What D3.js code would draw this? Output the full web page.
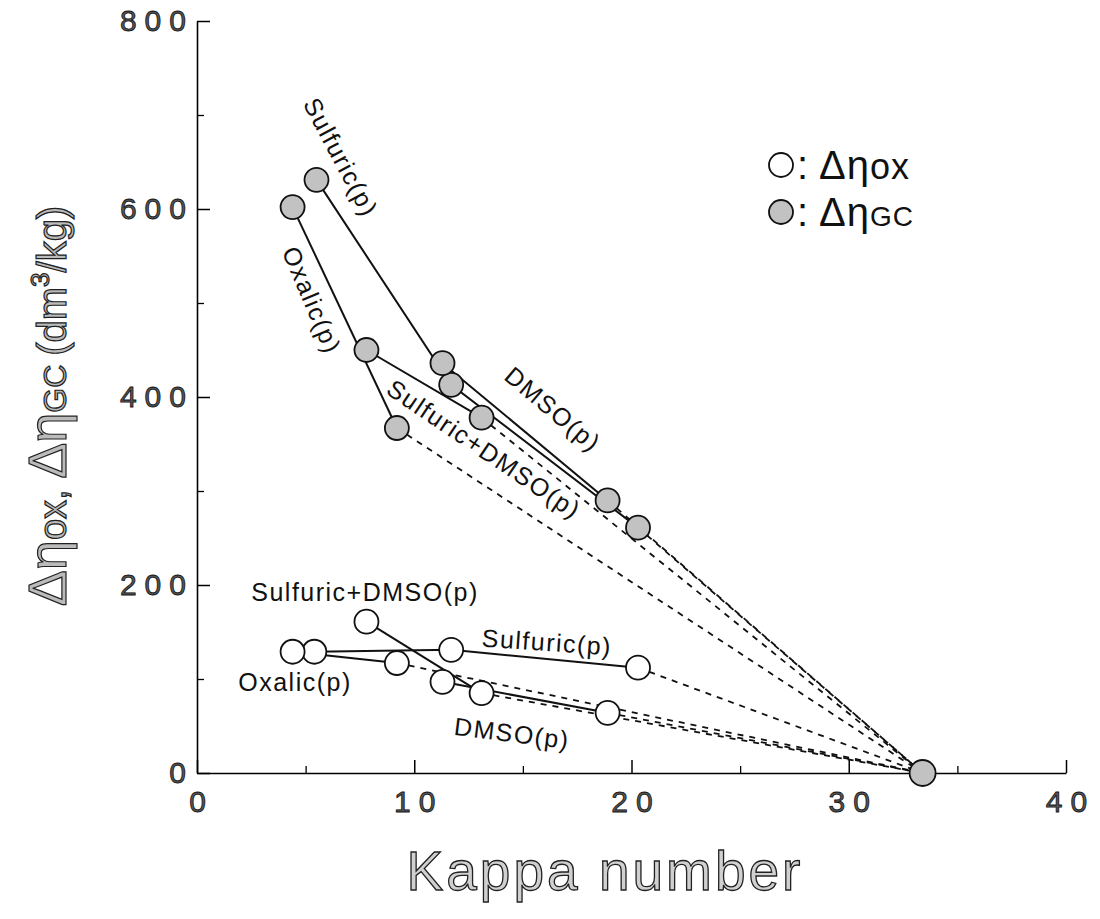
<!DOCTYPE html>
<html>
<head>
<meta charset="utf-8">
<script src="https://cdn.jsdelivr.net/npm/d3@7"></script>
<style>
  html, body { margin: 0; padding: 0; background: #fff; }
  svg { display: block; }
  text { font-family: "Liberation Sans", Arial, sans-serif; }
</style>
</head>
<body>
<svg id="chart" width="1100" height="919"></svg>
<script>
// Kappa number shared by all pulps before treatment (Δη = 0)
const startPoint = { kappa: 33.4, value: 0 };

// Δη_GC (filled markers) per treatment: [kappa, value]
const gcSulfuric     = [[5.5, 631], [11.7, 413], [20.3, 261]];
const gcOxalic       = [[4.4, 602], [9.2, 367]];
const gcSulfDmso     = [[7.8, 450], [13.1, 378]];
const gcDmso         = [[11.3, 436], [18.9, 290]];

// Δη_ox (open markers) per treatment: [kappa, value]
const oxSulfuric     = [[5.4, 129], [11.7, 131], [20.3, 112]];
const oxOxalic       = [[4.4, 129], [9.2, 117]];
const oxSulfDmso     = [[7.8, 161], [13.1, 85]];
const oxDmso         = [[11.3, 97], [18.9, 64]];

const xMajorTicks = [0, 10, 20, 30, 40];
const xMinorTicks = [5, 15, 25, 35];
const yMajorTicks = [0, 200, 400, 600, 800];
const yMinorTicks = [100, 300, 500, 700];

const svg = d3.select("#chart");
const x = d3.scaleLinear().domain([0, 40]).range([197, 1066]);
const y = d3.scaleLinear().domain([0, 800]).range([773, 21]);

// ---- axes ----
const tickFont = g => g.selectAll("text")
  .attr("font-size", 30)
  .attr("fill", "#555")
  .attr("stroke", "#111")
  .attr("stroke-width", 0.8)
  .style("letter-spacing", "8px");

svg.append("g")
  .attr("transform", `translate(${x(0)},0)`)
  .call(d3.axisLeft(y).tickValues(yMajorTicks).tickSize(-13).tickPadding(3).tickSizeOuter(0))
  .call(g => g.select(".domain").attr("stroke-width", 1.6))
  .call(g => g.selectAll(".tick line").attr("stroke-width", 1.5))
  .call(tickFont);

svg.append("g")
  .attr("transform", `translate(${x(0)},0)`)
  .call(d3.axisLeft(y).tickValues(yMinorTicks).tickSize(-7).tickFormat("").tickSizeOuter(0))
  .call(g => g.select(".domain").remove())
  .call(g => g.selectAll(".tick line").attr("stroke-width", 1.3));

svg.append("g")
  .attr("transform", `translate(0,${y(0)})`)
  .call(d3.axisBottom(x).tickValues(xMajorTicks).tickSize(-13).tickPadding(18).tickSizeOuter(0))
  .call(g => g.select(".domain").attr("stroke-width", 1.6))
  .call(g => g.selectAll(".tick line").attr("stroke-width", 1.5))
  .call(tickFont)
  .call(g => g.selectAll(".tick text").attr("dx", 4));

svg.append("g")
  .attr("transform", `translate(0,${y(0)})`)
  .call(d3.axisBottom(x).tickValues(xMinorTicks).tickSize(-7).tickFormat("").tickSizeOuter(0))
  .call(g => g.select(".domain").remove())
  .call(g => g.selectAll(".tick line").attr("stroke-width", 1.3));

// ---- axis titles ----
svg.append("text")
  .attr("x", 605).attr("y", 890)
  .attr("text-anchor", "middle")
  .attr("font-size", 55)
  .attr("fill", "#d0d0d0")
  .attr("stroke", "#222")
  .attr("stroke-width", 1.3)
  .style("letter-spacing", "3px")
  .text("Kappa number");

const yTitle = svg.append("text")
  .attr("transform", "translate(66,406) rotate(-90)")
  .attr("text-anchor", "middle")
  .attr("fill", "#bbb")
  .attr("stroke", "#222")
  .attr("stroke-width", 1.2);
yTitle.append("tspan").attr("font-size", 54).text("Δη");
yTitle.append("tspan").attr("font-size", 38).text("ox, ");
yTitle.append("tspan").attr("font-size", 54).text("Δη");
yTitle.append("tspan").attr("font-size", 32).text("GC ");
yTitle.append("tspan").attr("font-size", 40).text("(dm");
yTitle.append("tspan").attr("font-size", 26).attr("dy", -17).text("3");
yTitle.append("tspan").attr("font-size", 40).attr("dy", 17).text("/kg)");

// ---- lines ----
const line = d3.line().x(d => x(d[0])).y(d => y(d[1]));
const allSeries = [gcSulfuric, gcOxalic, gcSulfDmso, gcDmso, oxSulfuric, oxOxalic, oxSulfDmso, oxDmso];

const lines = svg.append("g").attr("fill", "none").attr("stroke", "#111");
allSeries.forEach(s => {
  // dashed extension from the last treated pulp back to the starting pulp
  const last = s[s.length - 1];
  lines.append("path")
    .attr("d", line([last, [startPoint.kappa, startPoint.value]]))
    .attr("stroke-width", 1.8)
    .attr("stroke-dasharray", "6,6");
  lines.append("path")
    .attr("d", line(s))
    .attr("stroke-width", 2);
});

// ---- markers ----
const R = 12;
const markers = svg.append("g").attr("stroke", "#111").attr("stroke-width", 1.8);
[oxSulfuric, oxOxalic, oxSulfDmso, oxDmso].forEach(s => {
  markers.selectAll(null).data(s).join("circle")
    .attr("cx", d => x(d[0])).attr("cy", d => y(d[1])).attr("r", R)
    .attr("fill", "#fff");
});
[gcSulfuric, gcOxalic, gcSulfDmso, gcDmso].forEach(s => {
  markers.selectAll(null).data(s).join("circle")
    .attr("cx", d => x(d[0])).attr("cy", d => y(d[1])).attr("r", R)
    .attr("fill", "#c2c2c2");
});
markers.append("circle")
  .attr("cx", x(startPoint.kappa)).attr("cy", y(startPoint.value)).attr("r", R + 1)
  .attr("fill", "#c2c2c2");

// ---- series labels ----
const labels = [
  { text: "Sulfuric(p)",       x: 341, y: 157, angle: 62 },
  { text: "Oxalic(p)",         x: 312, y: 300, angle: 67 },
  { text: "DMSO(p)",           x: 553, y: 409, angle: 40 },
  { text: "Sulfuric+DMSO(p)",  x: 484, y: 449, angle: 34 },
  { text: "Sulfuric+DMSO(p)",  x: 365, y: 592, angle: 0 },
  { text: "Sulfuric(p)",       x: 547, y: 642, angle: 4 },
  { text: "Oxalic(p)",         x: 295, y: 682, angle: 0 },
  { text: "DMSO(p)",           x: 512, y: 733, angle: 7 }
];
svg.append("g").selectAll("text").data(labels).join("text")
  .attr("transform", d => `translate(${d.x},${d.y}) rotate(${d.angle})`)
  .attr("text-anchor", "middle")
  .attr("dominant-baseline", "central")
  .attr("font-size", 25)
  .attr("fill", "#111")
  .style("letter-spacing", "1.5px")
  .text(d => d.text);

// ---- legend ----
const legend = svg.append("g");
const legendRows = [
  { fill: "#fff",    sub: "ox", cy: 165, subSize: 36 },
  { fill: "#c2c2c2", sub: "GC", cy: 212, subSize: 28 }
];
legendRows.forEach(r => {
  legend.append("circle")
    .attr("cx", 781).attr("cy", r.cy).attr("r", R)
    .attr("fill", r.fill).attr("stroke", "#111").attr("stroke-width", 1.8);
  const t = legend.append("text")
    .attr("x", 797).attr("y", r.cy + 14)
    .attr("fill", "#111")
    .style("letter-spacing", "1px");
  t.append("tspan").attr("font-size", 40).text(": Δη");
  t.append("tspan").attr("font-size", r.subSize).text(r.sub);
});
</script>
</body>
</html>
